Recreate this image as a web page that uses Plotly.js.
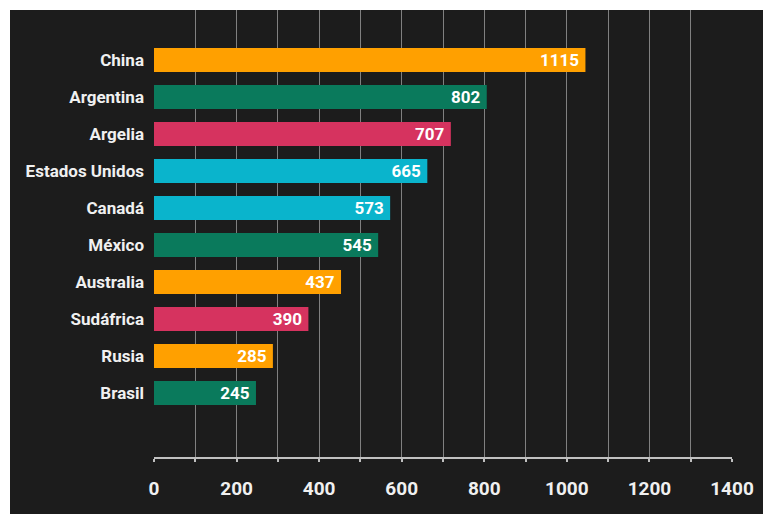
<!DOCTYPE html>
<html>
<head>
<meta charset="utf-8">
<script src="https://cdn.plot.ly/plotly-3.0.1.min.js"></script>
<style>
  html, body { margin: 0; padding: 0; background: #ffffff; }
  #chart { position: absolute; left: 10px; top: 10px; width: 753px; height: 504px; }
</style>
</head>
<body>
<div id="chart"></div>
<script>
// Categories (top to bottom)
const countries = ["China", "Argentina", "Argelia", "Estados Unidos", "Canadá", "México", "Australia", "Sudáfrica", "Rusia", "Brasil"];
// Values as printed on the bars
const valueLabels = [1115, 802, 707, 665, 573, 545, 437, 390, 285, 245];
// Bar lengths as drawn against the axis
const barLengths = [1045, 806, 719, 662, 572, 543, 453, 374, 288, 247];
// Bar colours
const barColors = ["#ffa000", "#0a7a5c", "#d6335f", "#0ab4cc", "#0ab4cc", "#0a7a5c", "#ffa000", "#d6335f", "#ffa000", "#0a7a5c"];
// Axis ticks
const tickValues = [0, 200, 400, 600, 800, 1000, 1200, 1400];

const FONT = "Roboto, DejaVu Sans, sans-serif";

const trace = {
  type: "bar",
  orientation: "h",
  y: countries,
  x: barLengths,
  text: valueLabels.map(v => String(v) + "\u2009"),
  textposition: "inside",
  insidetextanchor: "end",
  textangle: 0,
  constraintext: "none",
  cliponaxis: false,
  textfont: { family: FONT, size: 17, color: "#ffffff", weight: "bold" },
  marker: { color: barColors, line: { width: 0 } },
  width: 0.65,
  hoverinfo: "skip"
};

const layout = {
  width: 753,
  height: 504,
  margin: { l: 144, r: 31, t: 0, b: 57, pad: 0 },
  paper_bgcolor: "#1c1c1c",
  plot_bgcolor: "#1c1c1c",
  showlegend: false,
  xaxis: {
    range: [0, 1400],
    tickvals: tickValues,
    ticktext: tickValues.map(String),
    showgrid: true,
    gridcolor: "#808080",
    gridwidth: 1,
    zeroline: false,
    showline: true,
    linecolor: "#c0c0c0",
    linewidth: 2,
    ticks: "outside",
    ticklen: 3,
    tickwidth: 2,
    tickcolor: "#c0c0c0",
    minor: { dtick: 100, tick0: 0, showgrid: true, gridcolor: "#808080", gridwidth: 1, ticks: "outside", ticklen: 3, tickwidth: 2, tickcolor: "#c0c0c0" },
    tickfont: { family: FONT, size: 19, color: "#f0f0f0", weight: "bold" },
    ticklabelstandoff: 10,
    fixedrange: true
  },
  yaxis: {
    type: "category",
    categoryorder: "array",
    categoryarray: countries,
    range: [10.73, -1.35],
    showgrid: false,
    zeroline: false,
    showline: false,
    ticks: "",
    ticklabelstandoff: 9,
    tickfont: { family: FONT, size: 17, color: "#f0f0f0", weight: "bold" },
    fixedrange: true
  }
};

Plotly.newPlot("chart", [trace], layout, { displayModeBar: false, staticPlot: true });
</script>
</body>
</html>
